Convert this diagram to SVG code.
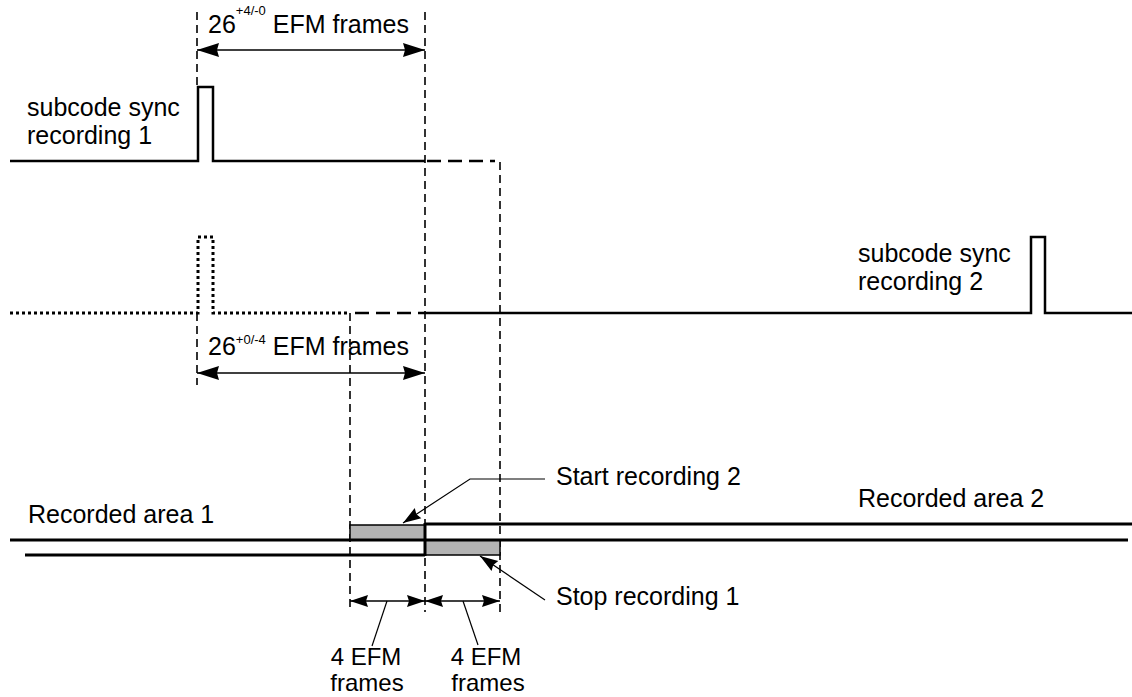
<svg xmlns="http://www.w3.org/2000/svg" width="1132" height="697" viewBox="0 0 1132 697">
<style>
text{font-family:"Liberation Sans",Arial,Helvetica,sans-serif;font-size:25px;fill:#000}
.sup{font-size:13px}
.small{font-size:24px}
.sig{fill:none;stroke:#000;stroke-width:2.5}
.dot{fill:none;stroke:#000;stroke-width:3;stroke-dasharray:3 3}
.tdash{fill:none;stroke:#000;stroke-width:2.5;stroke-dasharray:14 7}
.guide{fill:none;stroke:#000;stroke-width:1.6;stroke-dasharray:8 5}
.dim{fill:none;stroke:#000;stroke-width:1.5}
.lead{fill:none;stroke:#000;stroke-width:1.2}
.track{fill:none;stroke:#000;stroke-width:3}
.grey{fill:#b3b3b3;stroke:#000;stroke-width:1.5}
</style>
<defs>
<marker id="ah" markerUnits="userSpaceOnUse" markerWidth="22" markerHeight="16" refX="22" refY="8" orient="auto-start-reverse">
<path d="M0,1 L22,8 L0,15 L2,8 z" fill="#000"/>
</marker>
<marker id="ahs" markerUnits="userSpaceOnUse" markerWidth="18" markerHeight="14" refX="18" refY="7" orient="auto-start-reverse">
<path d="M0,1 L18,7 L0,13 L2,7 z" fill="#000"/>
</marker>
</defs>

<g id="guides">
<line class="guide" x1="197" y1="12" x2="197" y2="86"/>
<line class="guide" x1="197" y1="313" x2="197" y2="385"/>
<line class="guide" x1="425" y1="12" x2="425" y2="612"/>
<line class="guide" x1="500" y1="162" x2="500" y2="612"/>
<line class="guide" x1="350" y1="313" x2="350" y2="612"/>
</g>

<g id="signal1">
<path class="sig" d="M10,161 H198 V87 H213 V161 H425"/>
<path class="tdash" d="M427,161 H495"/>
<text x="27" y="116">subcode sync</text>
<text x="27" y="144">recording 1</text>
</g>

<g id="signal2">
<path class="dot" d="M10,313 H198 V237 H213 V313 H350"/>
<path class="tdash" d="M355,313 H425"/>
<path class="sig" d="M425,313 H1031 V237 H1045 V313 H1132"/>
<text x="858" y="262">subcode sync</text>
<text x="858" y="290">recording 2</text>
</g>

<g id="tracks">
<rect class="grey" x="350" y="525" width="75" height="15"/>
<rect class="grey" x="425" y="540" width="75" height="15"/>
<line class="track" x1="10" y1="540" x2="1128" y2="540"/>
<line class="track" x1="25" y1="555" x2="425" y2="555"/>
<line class="track" x1="425" y1="524" x2="1132" y2="524"/>
<line class="track" x1="425" y1="523" x2="425" y2="556"/>
<text x="28" y="523">Recorded area 1</text>
<text x="858" y="507">Recorded area 2</text>
</g>

<g id="connectors">
<line class="dim" x1="197" y1="50" x2="425" y2="50" marker-start="url(#ah)" marker-end="url(#ah)"/>
<line class="dim" x1="197" y1="373" x2="425" y2="373" marker-start="url(#ah)" marker-end="url(#ah)"/>
<line class="dim" x1="350" y1="601" x2="425" y2="601" marker-start="url(#ahs)" marker-end="url(#ahs)"/>
<line class="dim" x1="425" y1="601" x2="500" y2="601" marker-start="url(#ahs)" marker-end="url(#ahs)"/>
<line class="lead" x1="387" y1="601" x2="372" y2="646"/>
<line class="lead" x1="463" y1="601" x2="478" y2="645"/>
<polyline class="lead" points="545,479 470,479 403,523" marker-end="url(#ahs)"/>
<polyline class="lead" points="545,600 480,556" marker-end="url(#ahs)"/>
</g>

<g id="labels">
<text x="208" y="33">26<tspan class="sup" dy="-18">+4/-0</tspan><tspan dy="18"> EFM frames</tspan></text>
<text x="208" y="355">26<tspan class="sup" dy="-11">+0/-4</tspan><tspan dy="11"> EFM frames</tspan></text>
<text class="small" x="366" y="665" text-anchor="middle">4 EFM</text>
<text class="small" x="367" y="691" text-anchor="middle">frames</text>
<text class="small" x="486" y="665" text-anchor="middle">4 EFM</text>
<text class="small" x="488" y="691" text-anchor="middle">frames</text>
<text x="556" y="485">Start recording 2</text>
<text x="556" y="605">Stop recording 1</text>
</g>
</svg>
